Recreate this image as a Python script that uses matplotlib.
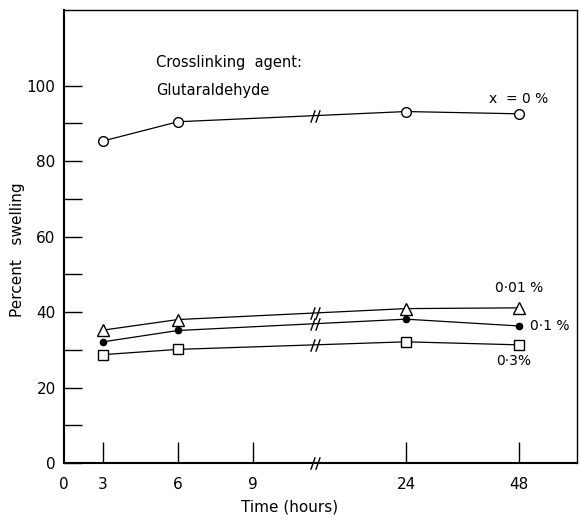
import numpy as np
import matplotlib
matplotlib.use("Agg")
import matplotlib.pyplot as plt
from matplotlib.path import Path

# ---- data ----
hours = [3, 6, 24, 48]
swell_0 = [85.3, 90.4, 93.1, 92.5]
swell_001 = [35.2, 38.0, 40.9, 41.1]
swell_01 = [32.1, 35.1, 38.1, 36.3]
swell_03 = [28.7, 30.1, 32.1, 31.3]
tick_hours = [0, 3, 6, 9, 24, 48]
tick_labels = ["0", "3", "6", "9", "24", "48"]
y_major = [0, 20, 40, 60, 80, 100]
y_minor = [10, 30, 50, 70, 90]

# ---- layout: broken time axis (hours -> axis position) ----
axis_pos = {0: 0.0, 3: 1.56, 6: 4.56, 9: 7.56, 24: 13.68, 48: 18.2}
break_pos = 10.04
x_max = 20.52

plt.rcParams['font.family'] = ['DejaVu Sans']
fig = plt.figure(figsize=(5.8, 5.19), dpi=100)
ax = fig.add_axes([64/580, 1 - 463/519, (577-64)/580, (463-10)/519])

xs = [axis_pos[h] for h in hours]
lw = 0.9
ax.plot(xs, swell_0, '-', color='black', lw=lw, marker='o', ms=7, mfc='white', mec='black', mew=1.0)
ax.plot(xs, swell_001, '-', color='black', lw=lw, marker='^', ms=8.5, mfc='white', mec='black', mew=1.0)
ax.plot(xs, swell_01, '-', color='black', lw=lw, marker='o', ms=4.5, mfc='black', mec='black')
ax.plot(xs, swell_03, '-', color='black', lw=lw, marker='s', ms=6.5, mfc='white', mec='black', mew=1.0)

# break marks "//"
brk = Path([(-0.75, -1), (-0.05, 1), (0.05, -1), (0.75, 1)],
           [Path.MOVETO, Path.LINETO, Path.MOVETO, Path.LINETO])
for ser in (swell_0, swell_001, swell_01, swell_03):
    yb = np.interp(break_pos, xs, ser)
    ax.plot([break_pos], [yb], marker=brk, ms=9, mec='black', mew=1.0, ls='none', clip_on=False)
ax.plot([break_pos], [0], marker=brk, ms=9, mec='black', mew=1.0, ls='none', clip_on=False)

ax.set_xlim(0, x_max)
ax.set_ylim(0, 120)

ax.set_xticks([axis_pos[h] for h in tick_hours])
ax.set_xticklabels(tick_labels)
ax.set_yticks(y_major)
ax.set_yticks(y_minor, minor=True)
ax.tick_params(axis='x', which='major', direction='in', length=15, width=1.0, pad=10, labelsize=11)
ax.tick_params(axis='y', which='major', direction='in', length=13, width=1.0, pad=6, labelsize=11)
ax.tick_params(axis='y', which='minor', direction='in', length=13, width=1.0)
# no tick mark at x=0
ax.xaxis.get_major_ticks()[0].tick1line.set_visible(False)

for s in ('left', 'bottom'):
    ax.spines[s].set_linewidth(1.5)
for s in ('top', 'right'):
    ax.spines[s].set_linewidth(1.0)

fig.text(290/580, 1 - 507/519, "Time (hours)", fontsize=11, ha='center', va='center')
fig.text(18/580, 1 - 250/519, "Percent   swelling", fontsize=11, ha='center', va='center', rotation=90)

ax.text(0.18, 0.885, "Crosslinking  agent:", transform=ax.transAxes, fontsize=10.5, va='center')
ax.text(0.18, 0.822, "Glutaraldehyde", transform=ax.transAxes, fontsize=10.5, va='center')

ax.text(axis_pos[48], 94.5, "x  = 0 %", fontsize=10, ha='center', va='bottom')
ax.text(axis_pos[48], 44.5, "0·01 %", fontsize=10, ha='center', va='bottom')
ax.text(axis_pos[48] + 0.45, swell_01[-1], "0·1 %", fontsize=10, ha='left', va='center')
ax.text(axis_pos[48] - 0.2, 28.8, "0·3%", fontsize=10, ha='center', va='top')

fig.savefig("out.png", dpi=100)
